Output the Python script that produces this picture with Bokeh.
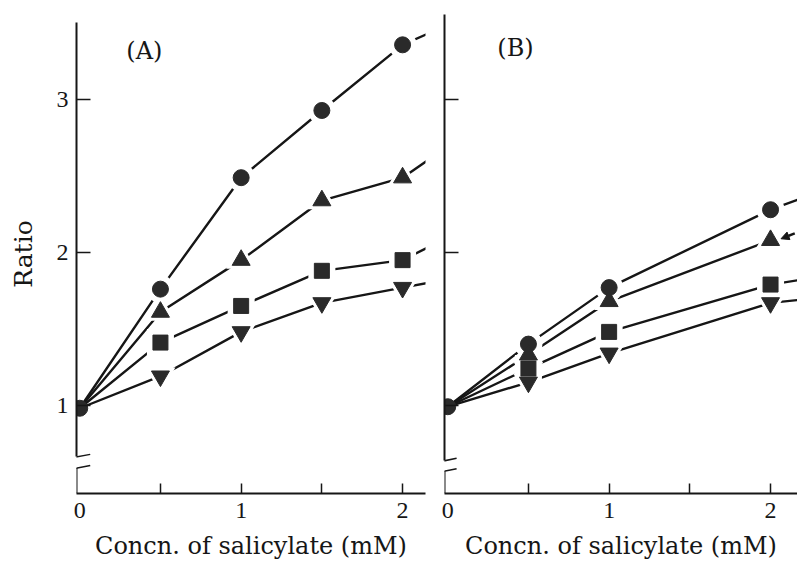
from bokeh.plotting import figure
from bokeh.layouts import row
from bokeh.models import Range1d, FixedTicker, Label, Arrow, NormalHead
from bokeh.embed import file_html
from bokeh.resources import INLINE

# ---------------- data ----------------
conc_A = [0, 0.5, 1, 1.5, 2]
ratio_A_circle = [0.98, 1.76, 2.49, 2.93, 3.36]
ratio_A_triangle = [0.98, 1.61, 1.95, 2.34, 2.49]
ratio_A_square = [0.98, 1.41, 1.65, 1.88, 1.95]
ratio_A_invtri = [0.98, 1.19, 1.48, 1.67, 1.77]
# where the fitted curves leave panel A at its right edge
edge_conc_A = 2.15
edge_A_circle, edge_A_triangle, edge_A_square, edge_A_invtri = 3.43, 2.60, 2.03, 1.80

conc_B = [0, 0.5, 1, 2]
ratio_B_circle = [0.99, 1.40, 1.77, 2.28]
ratio_B_triangle = [0.99, 1.33, 1.68, 2.08]
ratio_B_square = [0.99, 1.24, 1.48, 1.79]
ratio_B_invtri = [0.99, 1.15, 1.34, 1.67]
edge_conc_B = 2.18
edge_B_circle, edge_B_triangle, edge_B_square, edge_B_invtri = 2.35, None, 1.82, 1.69

y_ticks = [1, 2, 3]
x_major_ticks = [0, 1, 2]
x_minor_ticks = [0.5, 1, 1.5, 2]
x_title = "Concn. of salicylate (mM)"
y_title = "Ratio"
panel_names = ["(A)", "(B)"]

# ---------------- style ----------------
INK = "#161616"
MARK = "#2a2a2a"
SERIF = "DejaVu Serif"
NUM = "Liberation Serif"
X0 = -0.02
Y0, Y1 = 0.4217, 3.5586
H = 566
SIZES = {"circle": 16, "triangle": 18, "square": 15, "inverted_triangle": 18}


def base_fig(width, x_end, bl, br):
    p = figure(width=width, height=H, x_range=Range1d(X0, x_end), y_range=Range1d(Y0, Y1),
               output_backend="svg", toolbar_location=None,
               min_border_left=bl, min_border_right=br, min_border_top=14, min_border_bottom=73)
    p.outline_line_color = None
    p.grid.visible = False
    p.background_fill_color = "white"
    p.border_fill_color = "white"
    xa = p.xaxis[0]
    xa.ticker = FixedTicker(ticks=x_major_ticks, minor_ticks=x_minor_ticks)
    xa.major_tick_in = 0
    xa.major_tick_out = 0
    xa.minor_tick_in = 10
    xa.minor_tick_out = 0
    xa.minor_tick_line_color = INK
    xa.minor_tick_line_width = 1.5
    xa.axis_line_color = INK
    xa.axis_line_width = 2
    xa.major_label_text_font = NUM
    xa.major_label_text_font_size = "24px"
    xa.major_label_text_color = INK
    xa.major_label_standoff = 9
    xa.axis_label = x_title
    xa.axis_label_text_font = SERIF
    xa.axis_label_text_font_size = "24px"
    xa.axis_label_text_font_style = "normal"
    xa.axis_label_text_color = INK
    xa.axis_label_standoff = 11
    ya = p.yaxis[0]
    ya.ticker = FixedTicker(ticks=y_ticks)
    ya.major_tick_in = 14
    ya.major_tick_out = 0
    ya.minor_tick_line_color = None
    ya.major_tick_line_color = INK
    ya.major_tick_line_width = 1.5
    ya.axis_line_color = INK
    ya.axis_line_width = 2
    return p


def draw_panel(p, conc, series, edge_x):
    # fitted curves (through the points, continuing to the panel edge)
    for marker, vals, edge in series:
        xs = list(conc) + ([edge_x] if edge is not None else [])
        ys = list(vals) + ([edge] if edge is not None else [])
        p.line(xs, ys, line_color=INK, line_width=2.4)
    # white halos so the curves stop short of each symbol
    for marker, vals, edge in series:
        p.scatter(conc[1:], vals[1:], marker=marker, size=SIZES[marker] + 12,
                  fill_color="white", line_color=None)
    for marker, vals, edge in series:
        start = 0 if marker == "circle" else 1
        p.scatter(conc[start:], vals[start:], marker=marker, size=SIZES[marker],
                  fill_color=MARK, line_color=MARK, line_width=1)


def axis_break(p, lo, hi, dx, tilt):
    # lower stub of the y axis, below the break
    p.add_layout(Arrow(end=None, x_start=X0, y_start=Y0, x_end=X0, y_end=lo,
                       line_color=INK, line_width=2))
    for c in (lo, hi):
        p.add_layout(Arrow(end=None, x_start=X0 - dx, y_start=c - tilt, x_end=X0 + dx,
                           y_end=c + tilt, line_color=INK, line_width=1.5))


# ---------------- panel A ----------------
pA = base_fig(435, 2.142, 76, 10)
ya = pA.yaxis[0]
ya.bounds = (0.661, 3.506)
ya.major_label_text_font = NUM
ya.major_label_text_font_size = "24px"
ya.major_label_text_color = INK
ya.major_label_standoff = 8
ya.axis_label = y_title
ya.axis_label_text_font = SERIF
ya.axis_label_text_font_size = "25px"
ya.axis_label_text_font_style = "normal"
ya.axis_label_text_color = INK
ya.axis_label_standoff = 16
series_A = [("circle", ratio_A_circle, edge_A_circle),
            ("triangle", ratio_A_triangle, edge_A_triangle),
            ("square", ratio_A_square, edge_A_square),
            ("inverted_triangle", ratio_A_invtri, edge_A_invtri)]
draw_panel(pA, conc_A, series_A, edge_conc_A)
axis_break(pA, 0.588, 0.661, 0.085, 0.017)
pA.add_layout(Label(x=0.40, y=3.32, text=panel_names[0], text_font=SERIF, text_font_size="24px",
                    text_color=INK, text_align="center", text_baseline="middle"))

# ---------------- panel B ----------------
pB = base_fig(362, 2.167, 9, 0)
yb = pB.yaxis[0]
yb.bounds = (0.636, Y1)
yb.major_label_overrides = {1: "", 2: "", 3: ""}
yb.major_label_standoff = 0
series_B = [("circle", ratio_B_circle, edge_B_circle),
            ("triangle", ratio_B_triangle, edge_B_triangle),
            ("square", ratio_B_square, edge_B_square),
            ("inverted_triangle", ratio_B_invtri, edge_B_invtri)]
draw_panel(pB, conc_B, series_B, edge_conc_B)
axis_break(pB, 0.568, 0.636, 0.075, 0.016)
pB.add_layout(Arrow(end=NormalHead(size=8, fill_color=INK, line_color=INK),
                    x_start=conc_B[-1] + 0.15, y_start=ratio_B_triangle[-1] + 0.045,
                    x_end=conc_B[-1] + 0.065, y_end=ratio_B_triangle[-1] + 0.01,
                    line_color=INK, line_width=2.5))
pB.add_layout(Label(x=0.42, y=3.34, text=panel_names[1], text_font=SERIF, text_font_size="24px",
                    text_color=INK, text_align="center", text_baseline="middle"))

layout = row(pA, pB)
open("out.html", "w").write(file_html(layout, INLINE))
